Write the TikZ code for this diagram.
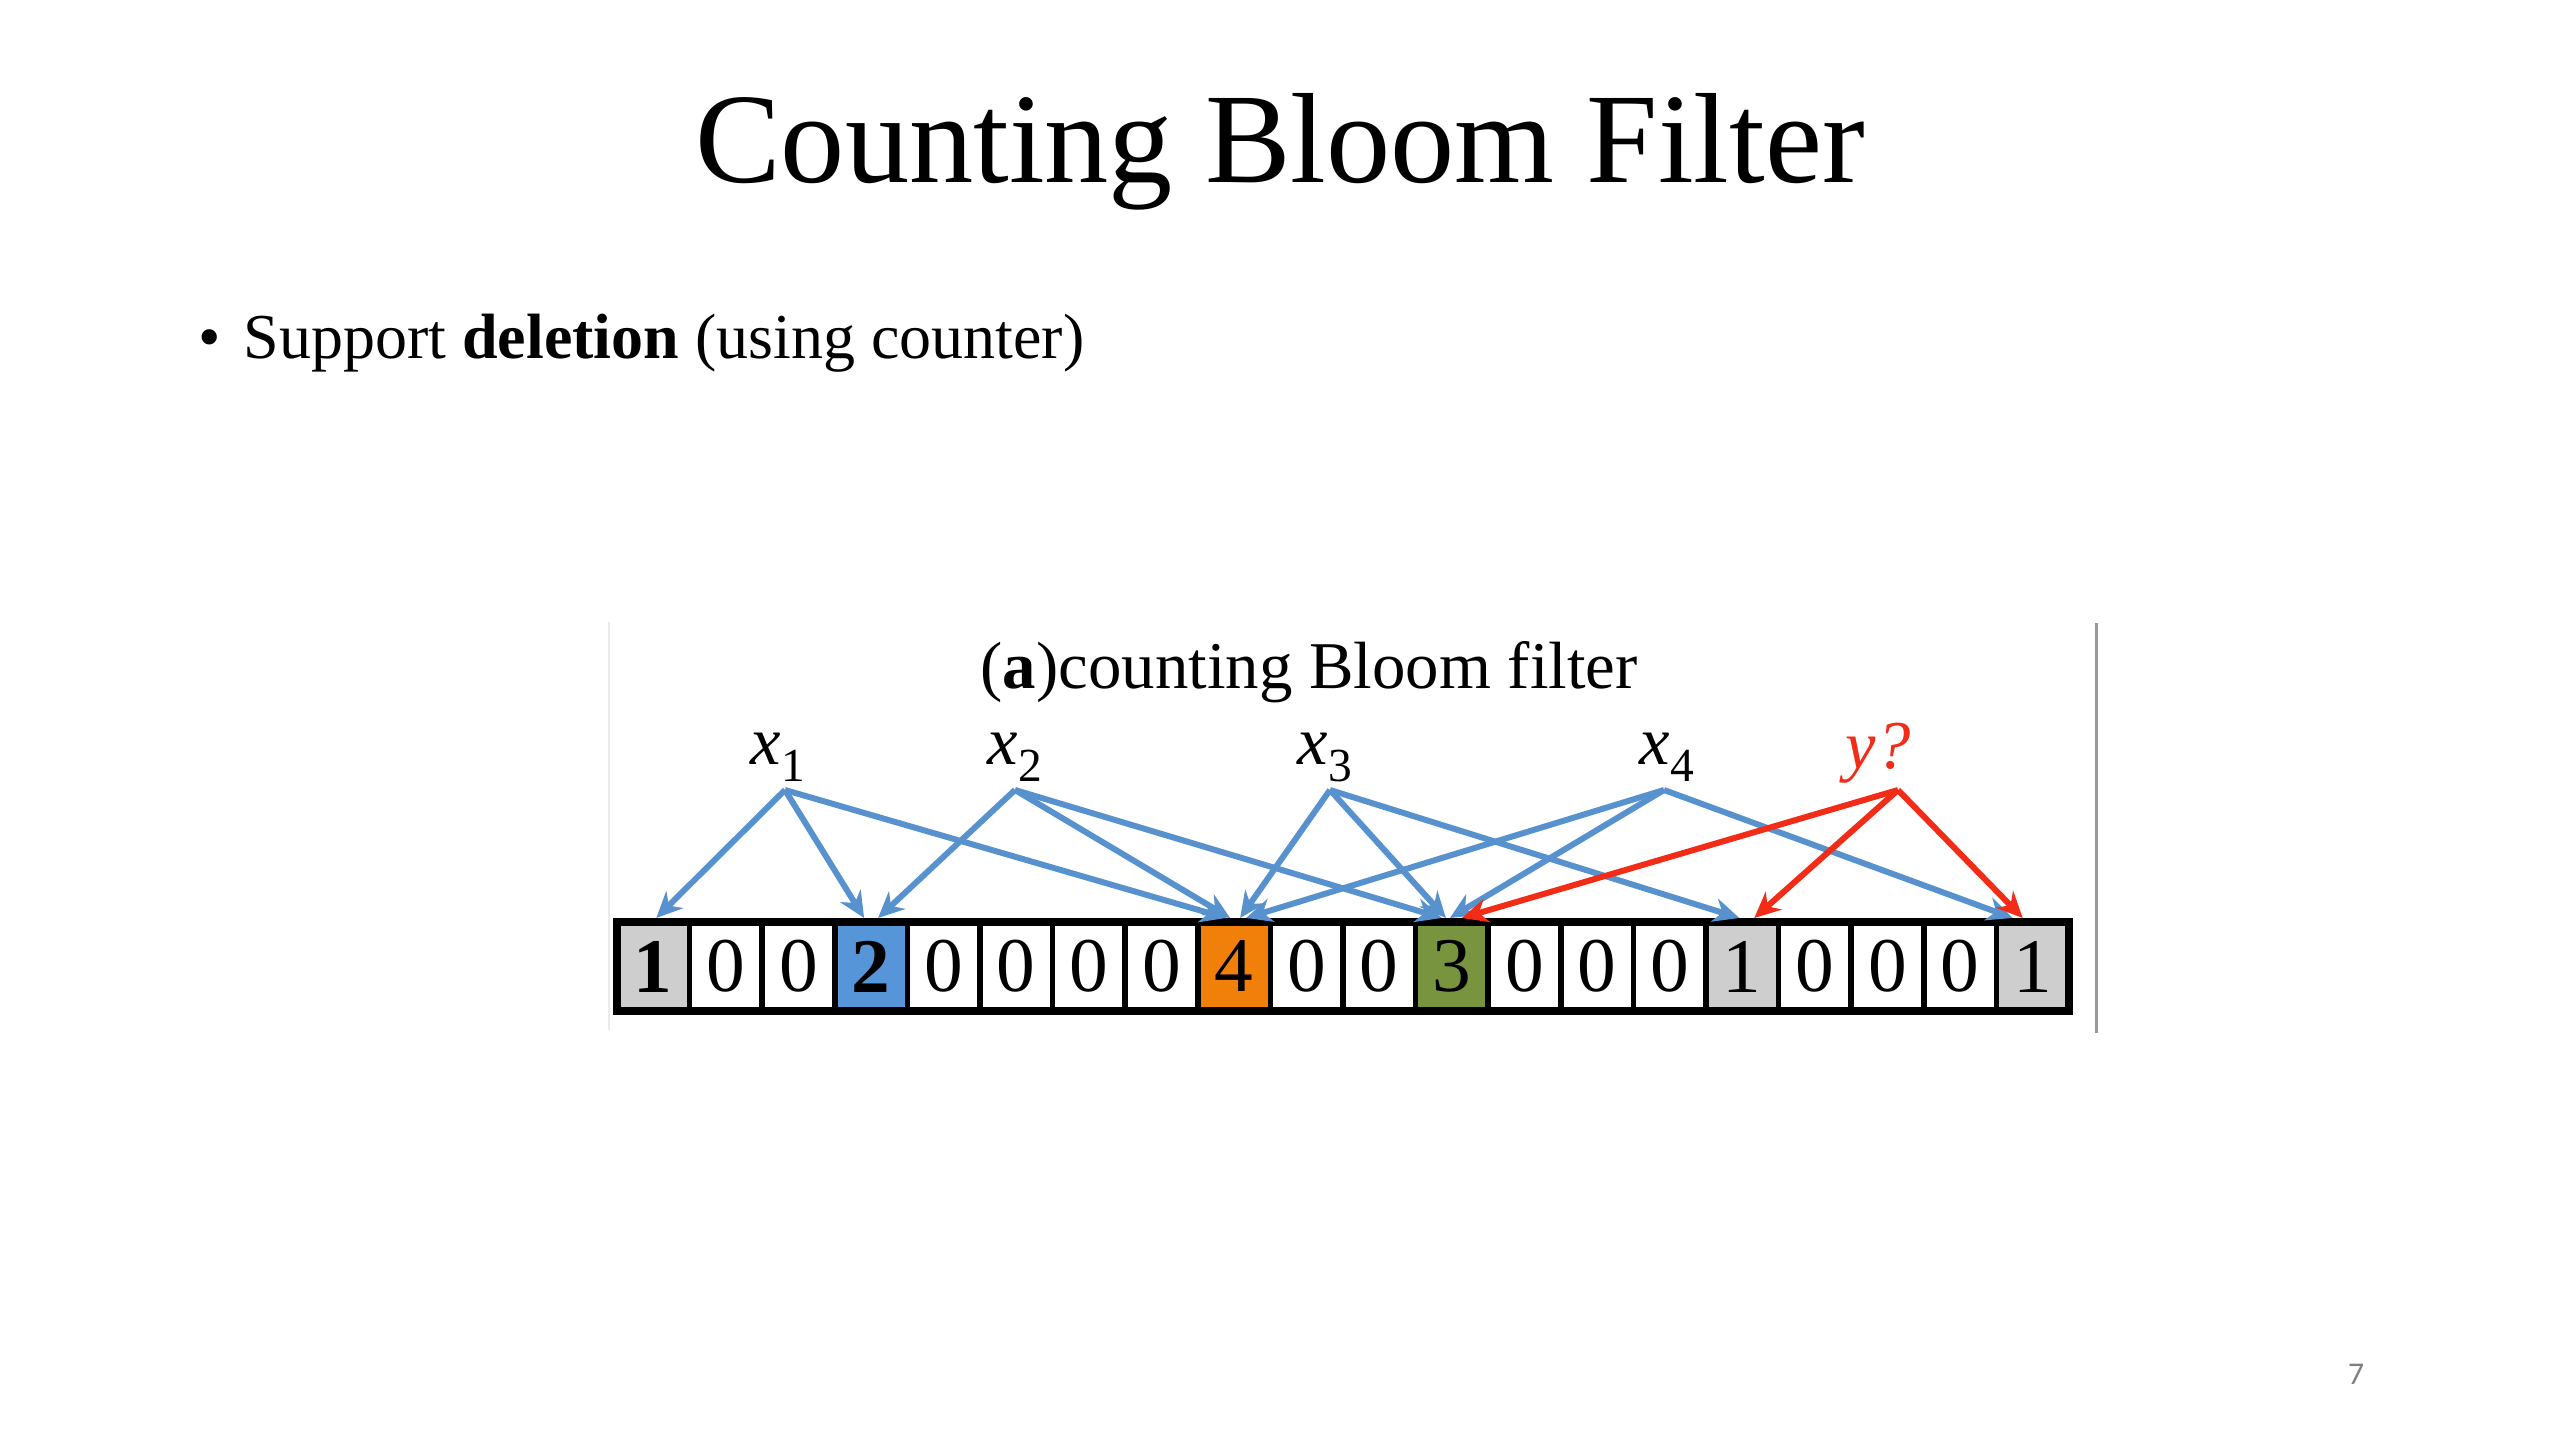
\documentclass[tikz,border=0pt]{standalone}
\usepackage{fontspec}
\setmainfont{Liberation Serif}
\newfontfamily\pnfont{Carlito}
\usetikzlibrary{arrows.meta,calc}
\definecolor{arrblue}{RGB}{88,146,206}
\definecolor{arrred}{RGB}{242,44,22}
\definecolor{cellgray}{RGB}{206,206,206}
\definecolor{cellblue}{RGB}{86,150,216}
\definecolor{cellorange}{RGB}{240,128,10}
\definecolor{cellgreen}{RGB}{120,148,62}
\newcommand\labsub[1]{\raisebox{-0.16cm}{\fontsize{13.5}{13.5}\selectfont #1}}
\begin{document}
\begin{tikzpicture}[x=0.01cm,y=-0.01cm,
  cell/.style={draw=black, line width=1.6pt, minimum width=0.726cm, minimum height=0.89cm,
    inner sep=0pt, outer sep=0pt, font=\fontsize{22}{22}\selectfont},
  lab/.style={font=\fontsize{19.5}{19.5}\selectfont, inner sep=0pt, anchor=base west},
  barrow/.style={draw=arrblue, line width=1.7pt, -{Stealth[length=0.26cm,width=0.24cm]}},
  rarrow/.style={barrow, draw=arrred},
]
\useasboundingbox (0,0) rectangle (2560,1440);
\fill[white] (0,0) rectangle (2560,1440);
% title and bullet
\node[anchor=base, inner sep=0pt, font=\fontsize{36.5}{36.5}\selectfont] (title) at (1280,183) {Counting Bloom Filter};
\node[anchor=base west, inner sep=0pt, font=\fontsize{18.2}{18.2}\selectfont] (bul) at (198,359) {\textbullet};
\node[anchor=base west, inner sep=0pt, font=\fontsize{18.2}{18.2}\selectfont] (btext) at (243,359) {Support \textbf{deletion} (using counter)};
% figure frame lines
\draw[black!8, line width=0.6pt] (609,622) -- (609,1030);
\draw[black!40, line width=0.85pt] (2096,623) -- (2096,1033);
% subtitle
\node[anchor=base west, inner sep=0pt, font=\fontsize{19}{19}\selectfont] (sub) at (980,689) {(\textbf{a})counting Bloom filter};
% labels
\node[lab] (x1) at (750,765) {\textit{x}\labsub{1}};
\node[lab] (x2) at (987,765) {\textit{x}\labsub{2}};
\node[lab] (x3) at (1297,765) {\textit{x}\labsub{3}};
\node[lab] (x4) at (1639,765) {\textit{x}\labsub{4}};
\node[lab, text=arrred] (yq) at (1845,768) {\textit{y?}};
\coordinate (a1) at (785,790);
\coordinate (a2) at (1015,790);
\coordinate (a3) at (1330,790);
\coordinate (a4) at (1664,790);
\coordinate (ay) at (1898,790);
% cells
\foreach \v/\f [count=\i from 0] in {{\textbf{1}}/cellgray, 0/white, 0/white, {\textbf{2}}/cellblue,
  0/white, 0/white, 0/white, 0/white, 4/cellorange, 0/white, 0/white, 3/cellgreen,
  0/white, 0/white, 0/white, 1/cellgray, 0/white, 0/white, 0/white, 1/cellgray}
  \node[cell, fill=\f] (c\i) at ({617+72.6*(\i+0.5)},966.5) {\v};
\draw[line width=2.3pt] (c0.north west) rectangle (c19.south east);
% arrows x1
\draw[barrow] (a1) -- ($(c0.north)+(3,-4)$);
\draw[barrow] (a1) -- ($(c3.north)+(-7,-4)$);
\draw[barrow] (a1) -- ($(c8.north)+(-8,-4)$);
% x2
\draw[barrow] (a2) -- ($(c3.north)+(7,-4)$);
\draw[barrow] (a2) -- ($(c8.north)+(-4,-4)$);
\draw[barrow] (a2) -- ($(c11.north)+(-10,-4)$);
% x3
\draw[barrow] (a3) -- ($(c8.north)+(6,-4)$);
\draw[barrow] (a3) -- ($(c11.north)+(-6,-4)$);
\draw[barrow] (a3) -- ($(c15.north)+(-3,-4)$);
% x4
\draw[barrow] (a4) -- ($(c8.north)+(12,-4)$);
\draw[barrow] (a4) -- ($(c11.north)+(-2,-4)$);
\draw[barrow] (a4) -- ($(c19.north)+(-20,-4)$);
% y?
\draw[rarrow] (ay) -- ($(c11.north)+(10,-4)$);
\draw[rarrow] (ay) -- ($(c15.north)+(12,-4)$);
\draw[rarrow] (ay) -- ($(c19.north)+(-10,-4)$);
% page number
\node[inner sep=0pt, text=black!50, font=\pnfont\fontsize{9}{9}\selectfont] (pn) at (2356,1374) {7};
\end{tikzpicture}
\end{document}
